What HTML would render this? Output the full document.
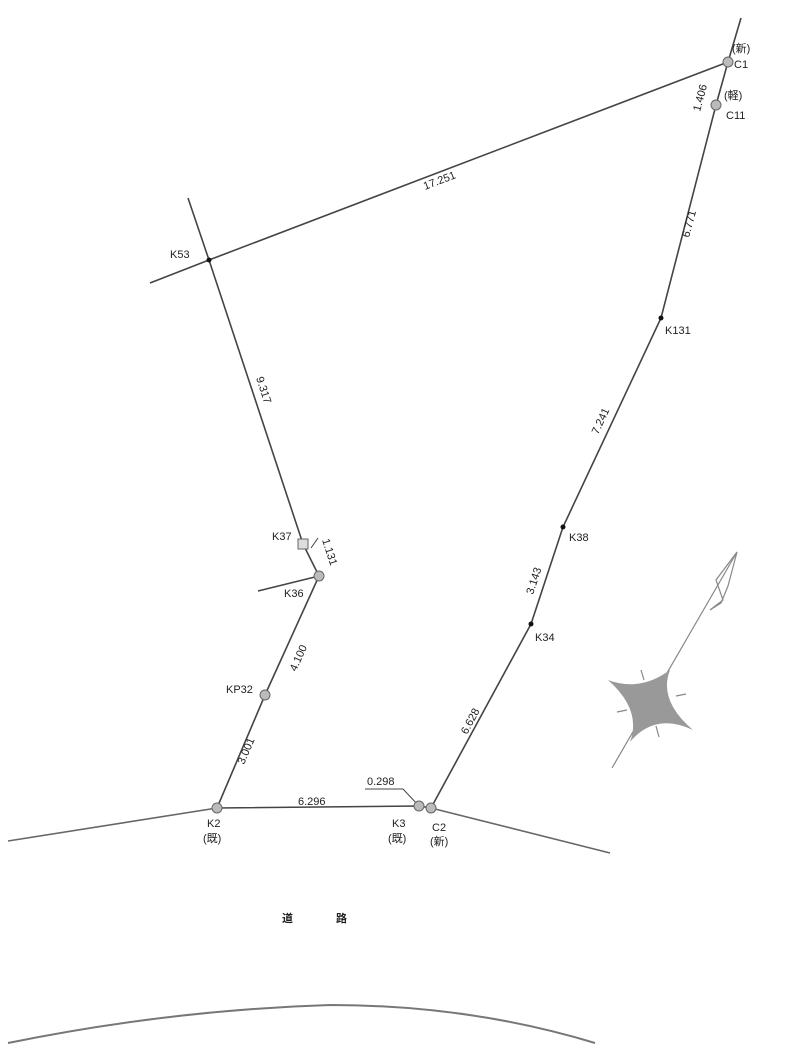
<!DOCTYPE html>
<html><head><meta charset="utf-8"><style>
html,body{margin:0;padding:0;background:#fff;width:787px;height:1059px;overflow:hidden}
svg text{font-family:"Liberation Sans","Noto Sans CJK JP",sans-serif;fill:#222;font-size:11px}
</style></head><body>
<svg width="787" height="1059" viewBox="0 0 787 1059" xmlns="http://www.w3.org/2000/svg">
<g stroke="#444" stroke-width="1.6" fill="none">
<polyline points="150,283 209,260 728,62"/>
<polyline points="188,198 209,260 303,544 319,576 265,695 217,808 419,806 431,808 531,624 563,527 661,318 716,105 728,62 741,18"/>
<line x1="319" y1="576" x2="258" y2="591"/>
<line x1="318" y1="538" x2="311" y2="548" stroke-width="1"/>
<path d="M8,841 L217,808" stroke="#666"/>
<path d="M431,808 L610,853" stroke="#666"/>
<path d="M8,1043 Q170,1010 330,1005 Q470,1005 595,1043" stroke="#777" stroke-width="2"/>
<polyline points="365,789 403,789 419,806" stroke-width="1"/>
</g>
<g fill="#bbb" stroke="#666" stroke-width="1">
<circle cx="728" cy="62" r="5"/>
<circle cx="716" cy="105" r="5"/>
<circle cx="319" cy="576" r="5"/>
<circle cx="265" cy="695" r="5"/>
<circle cx="217" cy="808" r="5"/>
<circle cx="419" cy="806" r="5"/>
<circle cx="431" cy="808" r="5"/>
<rect x="298" y="539" width="10" height="10" fill="#ddd"/>
</g>
<g fill="#111">
<circle cx="209" cy="260" r="2.5"/>
<circle cx="661" cy="318" r="2.5"/>
<circle cx="563" cy="527" r="2.5"/>
<circle cx="531" cy="624" r="2.5"/>
</g>
<g stroke="#888" fill="none" stroke-width="1.2">
<line x1="612" y1="768" x2="737" y2="552"/>
<polygon points="737,552 716,580 723,600 710,610 721,603 728,586"/>
<line x1="641" y1="670" x2="644" y2="680"/>
<line x1="676" y1="696" x2="686" y2="694"/>
<line x1="656" y1="726" x2="659" y2="737"/>
<line x1="617" y1="712" x2="627" y2="710"/>
</g>
<path d="M608,680 Q640,692 670,670 Q658,700 693,730 Q655,712 630,742 Q642,710 608,680 Z" fill="#999"/>
<text x="732" y="52" font-size="10">(新)</text>
<text x="734" y="68">C1</text>
<text x="724" y="99" font-size="10">(軽)</text>
<text x="726" y="119">C11</text>
<text x="170" y="258">K53</text>
<text x="665" y="334">K131</text>
<text x="569" y="541">K38</text>
<text x="535" y="641">K34</text>
<text x="272" y="540">K37</text>
<text x="284" y="597">K36</text>
<text x="226" y="693">KP32</text>
<text x="207" y="827">K2</text>
<text x="203" y="842" font-size="10">(既)</text>
<text x="392" y="827">K3</text>
<text x="388" y="842" font-size="10">(既)</text>
<text x="432" y="831">C2</text>
<text x="430" y="845" font-size="10">(新)</text>
<text x="367" y="785">0.298</text>
<text x="298" y="805">6.296</text>
<text transform="translate(425,190) rotate(-21)">17.251</text>
<text transform="translate(256,378) rotate(72)">9.317</text>
<text transform="translate(689,238) rotate(-75)">6.771</text>
<text transform="translate(598,435) rotate(-65)">7.241</text>
<text transform="translate(533,595) rotate(-72)">3.143</text>
<text transform="translate(467,735) rotate(-62)">6.628</text>
<text transform="translate(296,672) rotate(-66)">4.100</text>
<text transform="translate(244,765) rotate(-67)">3.001</text>
<text transform="translate(700,112) rotate(-75)">1.406</text>
<text transform="translate(322,540) rotate(72)">1.131</text>
<text x="282" y="922" font-size="16" font-weight="bold" style="fill:#222">道</text>
<text x="336" y="922" font-size="16" font-weight="bold" style="fill:#222">路</text>
</svg>
</body></html>
